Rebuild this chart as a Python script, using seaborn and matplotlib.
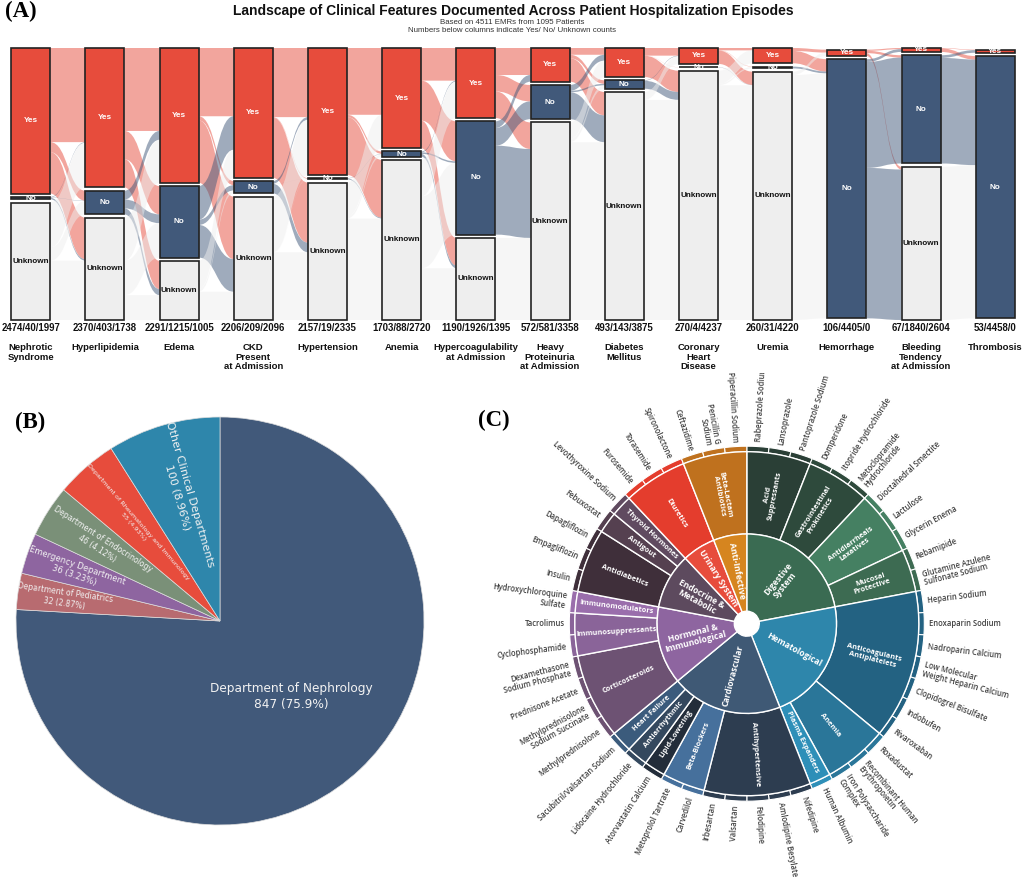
import pandas as pd
import matplotlib
matplotlib.use('Agg')
import matplotlib.pyplot as plt
from matplotlib.patches import PathPatch
from matplotlib.path import Path
import numpy as np
import seaborn as sns

W, H = 1024, 877

# -----------------------------
# Panel A data
features = ['Nephrotic\nSyndrome', 'Hyperlipidemia', 'Edema', 'CKD\nPresent\nat Admission',
            'Hypertension', 'Anemia', 'Hypercoagulability\nat Admission',
            'Heavy\nProteinuria\nat Admission', 'Diabetes\nMellitus', 'Coronary\nHeart\nDisease',
            'Uremia', 'Hemorrhage', 'Bleeding\nTendency\nat Admission', 'Thrombosis']
yes_counts = [2474, 2370, 2291, 2206, 2157, 1703, 1190, 572, 493, 270, 260, 106, 67, 53]
no_counts = [40, 403, 1215, 209, 19, 88, 1926, 581, 143, 4, 31, 4405, 1840, 4458]
unknown_counts = [1997, 1738, 1005, 2096, 2335, 2720, 1395, 3358, 3875, 4237, 4220, 0, 2604, 0]

# flows between neighbouring columns, estimated from band widths (rows: from, cols: to; Yes/No/Unknown)
flow_01 = [[1600, 170, 704], [10, 5, 25], [760, 228, 1009]]
flow_02 = [[1410, 480, 480], [150, 150, 103], [730, 585, 423]]
flow_03 = [[1160, 70, 1061], [570, 90, 555], [476, 49, 480]]
flow_04 = [[1175, 10, 1021], [45, 1, 163], [937, 8, 1151]]
flow_05 = [[1135, 40, 982], [0, 5, 14], [568, 43, 1724]]
flow_06 = [[555, 680, 468], [15, 26, 47], [620, 1220, 880]]
flow_07 = [[459, 280, 451], [113, 301, 1512], [0, 0, 1395]]
flow_08 = [[115, 60, 397], [100, 25, 456], [278, 58, 3022]]
flow_09 = [[130, 2, 361], [8, 0, 135], [132, 2, 3741]]
flow_10 = [[40, 5, 225], [0, 0, 4], [220, 26, 3991]]
flow_11 = [[50, 210, 0], [0, 31, 0], [56, 4164, 0]]
flow_12 = [[20, 40, 46], [47, 1800, 2558], [0, 0, 0]]
flow_13 = [[8, 59, 0], [45, 1795, 0], [0, 2604, 0]]
flows = [flow_01, flow_02, flow_03, flow_04, flow_05, flow_06, flow_07,
         flow_08, flow_09, flow_10, flow_11, flow_12, flow_13]

levels = ['Yes', 'No', 'Unknown']
level_colors = ['#E74C3C', '#41597A', '#EEEEEE']
level_text = ['white', 'white', '#111111']

# -----------------------------
# Panel B data
dept_names = ['Department of Nephrology', 'Department of Pediatrics', 'Emergency Department',
              'Department of Endocrinology', 'Department of Rheumatology and Immunology',
              'Other Clinical Departments']
dept_counts = [847, 32, 36, 46, 55, 100]
dept_pct = ['75.9%', '2.87%', '3.23%', '4.12%', '4.93%', '8.96%']
dept_colors = ['#41597A', '#B86B70', '#8E65A0', '#7A9078', '#E74C3C', '#2E86AB']
dept_font = [8.7, 5.5, 6.0, 5.6, 4.6, 7.9]
dept_radius = [0.51, 0.77, 0.75, 0.70, 0.63, 0.64]

# -----------------------------
# Panel C data
systems = ['Digestive\nSystem', 'Hematological', 'Cardiovascular', 'Hormonal &\nImmunological',
           'Endocrine &\nMetabolic', 'Urinary System', 'Anti-Infective']
system_colors = ['#3A6B52', '#2E86AB', '#3F5975', '#8E65A0', '#5D4A5E', '#E74C3C', '#D6851F']
drug_classes = ['Acid\nSuppressants', 'Gastrointestinal\nProkinetics', 'Antidiarrheals\nLaxatives',
                'Mucosal\nProtective', 'Anticoagulants\nAntiplatelets', 'Anemia', 'Plasma Expanders',
                'Antihypertensive', 'Beta-Blockers', 'Lipid-Lowering', 'Antiarrhythmic', 'Heart Failure',
                'Corticosteroids', 'Immunosuppressants', 'Immunomodulators', 'Antidiabetics', 'Antigout',
                'Thyroid Hormones', 'Diuretics', 'Beta-Lactam\nAntibiotics']
class_parent = [0, 0, 0, 0, 1, 1, 1, 2, 2, 2, 2, 2, 3, 3, 3, 4, 4, 4, 5, 6]
class_sizes = [3, 3, 3, 2, 7, 3, 1, 5, 2, 1, 1, 1, 4, 2, 1, 3, 1, 1, 3, 3]
class_colors = ['#2A3F36', '#2E4A3C', '#458062', '#3D6B52', '#236282', '#2A7699', '#2E8FB8',
                '#2D3D50', '#46709C', '#232D3A', '#34485E', '#3B5B7C', '#6D5273', '#8A6499',
                '#9A6EAC', '#3F2F3A', '#554050', '#604A60', '#E43D2D', '#BF711E']
drugs = ['Rabeprazole Sodium', 'Lansoprazole', 'Pantoprazole Sodium', 'Domperidone',
         'Itopride Hydrochloride', 'Metoclopramide\nHydrochloride', 'Dioctahedral Smectite', 'Lactulose',
         'Glycerin Enema', 'Rebamipide', 'Glutamine Azulene\nSulfonate Sodium', 'Heparin Sodium',
         'Enoxaparin Sodium', 'Nadroparin Calcium', 'Low Molecular\nWeight Heparin Calcium',
         'Clopidogrel Bisulfate', 'Indobufen', 'Rivaroxaban', 'Roxadustat',
         'Recombinant Human\nErythropoietin', 'Iron Polysaccharide\nComplex', 'Human Albumin', 'Nifedipine',
         'Amlodipine Besylate', 'Felodipine', 'Valsartan', 'Irbesartan', 'Carvedilol', 'Metoprolol Tartrate',
         'Atorvastatin Calcium', 'Lidocaine Hydrochloride', 'Sacubitril/Valsartan Sodium',
         'Methylprednisolone', 'Methylprednisolone\nSodium Succinate', 'Prednisone Acetate',
         'Dexamethasone\nSodium Phosphate', 'Cyclophosphamide', 'Tacrolimus', 'Hydroxychloroquine\nSulfate',
         'Insulin', 'Empagliflozin', 'Dapagliflozin', 'Febuxostat', 'Levothyroxine Sodium', 'Furosemide',
         'Torasemide', 'Spironolactone', 'Ceftazidime', 'Penicillin G\nSodium', 'Piperacillin Sodium']

sns.set_theme(style='white')
plt.rcParams['font.family'] = ['Liberation Sans', 'DejaVu Sans']

fig = plt.figure(figsize=(W / 100, H / 100), dpi=100)


def px_box(x0, y0, x1, y1):
    return [x0 / W, 1 - y1 / H, (x1 - x0) / W, (y1 - y0) / H]


# -----------------------------
# (A) sankey columns, 4 px of room round the stacks so the borders are not clipped
ax = fig.add_axes(px_box(0, 44, W, 324))
gap = 56
full_height = 4511 + 2 * gap
units_per_px = full_height / 272
counts = np.array([yes_counts, no_counts, unknown_counts], dtype=float)
bar_width = 39 / 74.19

# stack each column from the top, centred in the panel
tops = np.zeros_like(counts)
for c in range(counts.shape[1]):
    shown = counts[:, c] > 0
    total = counts[:, c].sum() + gap * (shown.sum() - 1)
    y = full_height - (full_height - total) / 2
    for l in range(3):
        tops[l, c] = y
        if shown[l]:
            y -= counts[l, c] + gap

# bands
band_colors = ['#E74C3C', '#41597A', '#EEEEEE']
for i, flow in enumerate(flows):
    x0 = i + bar_width / 2
    x1 = i + 1 - bar_width / 2
    mid = (x0 + x1) / 2
    src = tops[:, i].copy()
    dst = tops[:, i + 1].copy()
    for s in range(3):
        for t in range(3):
            v = flow[s][t]
            if v == 0:
                continue
            verts = [(x0, src[s]), (mid, src[s]), (mid, dst[t]), (x1, dst[t]),
                     (x1, dst[t] - v), (mid, dst[t] - v), (mid, src[s] - v), (x0, src[s] - v),
                     (x0, src[s])]
            codes = [Path.MOVETO, Path.CURVE4, Path.CURVE4, Path.CURVE4, Path.LINETO,
                     Path.CURVE4, Path.CURVE4, Path.CURVE4, Path.CLOSEPOLY]
            ax.add_patch(PathPatch(Path(verts, codes), facecolor=band_colors[s], alpha=0.5,
                                   edgecolor='none', zorder=1))
            src[s] -= v
            dst[t] -= v

for l, name in enumerate(levels):
    df = pd.DataFrame({'feature': features, 'count': counts[l], 'top': tops[l]})
    df = df[df['count'] > 0]
    sns.barplot(data=df, x='feature', y='count', order=features, bottom=(df['top'] - df['count']).values,
                color=level_colors[l], saturation=1, width=bar_width, errorbar=None,
                edgecolor='#222222', linewidth=1.2, zorder=3, ax=ax)
    for c, row in zip(df.index, df.itertuples()):
        ax.text(c, row.top - row.count / 2, name, ha='center', va='center', fontsize=5.9,
                fontweight='bold', color=level_text[l], zorder=5)

ax.set_xlim(-30.7 / 74.19, 13 + (W - 995.2) / 74.19)
ax.set_ylim(-4 * units_per_px, full_height + 4 * units_per_px)
ax.set(xlabel=None, ylabel=None, xticks=[], yticks=[])
ax.patch.set_visible(False)
sns.despine(ax=ax, left=True, bottom=True)

x_trans = ax.get_xaxis_transform()
for c, name in enumerate(features):
    ax.text(c, -4 / 280, f'{yes_counts[c]}/{no_counts[c]}/{unknown_counts[c]}', transform=x_trans,
            ha='center', va='center', fontsize=6.9, fontweight='bold', color='#111111')
    ax.text(c, -19 / 280, name, transform=x_trans, ha='center', va='top', fontsize=6.8,
            fontweight='bold', color='#111111', linespacing=1.1)

fig.text(513 / W, 1 - 10.5 / H, 'Landscape of Clinical Features Documented Across Patient Hospitalization Episodes',
         ha='center', va='center', fontsize=10, fontweight='bold', color='#111111')
fig.text(512 / W, 1 - 22 / H, 'Based on 4511 EMRs from 1095 Patients', ha='center', va='center',
         fontsize=5.7, color='#333333')
fig.text(512 / W, 1 - 30.5 / H, 'Numbers below columns indicate Yes/ No/ Unknown counts', ha='center', va='center',
         fontsize=5.7, color='#333333')

for lab, lx, ly in [('(A)', 21, 11), ('(B)', 30, 422), ('(C)', 494, 420)]:
    fig.text(lx / W, 1 - ly / H, lab, ha='center', va='center', fontsize=16.5, fontweight='bold',
             family=['Liberation Serif'], color='black')

# -----------------------------
# (B) departments
r_px = 204
box = r_px * 1.05
ax_b = fig.add_axes(px_box(220 - box, 621 - box, 220 + box, 621 + box))
ax_b.pie(dept_counts, colors=sns.color_palette(dept_colors), startangle=90, counterclock=False,
         wedgeprops=dict(edgecolor='#dddddd', linewidth=0.5))
ax_b.set_xlim(-1.05, 1.05)
ax_b.set_ylim(-1.05, 1.05)
start = 90.0
for i, name in enumerate(dept_names):
    sweep = 360 * dept_counts[i] / sum(dept_counts)
    mid = start - sweep / 2
    start -= sweep
    rot = 0 if i == 0 else mid - 180
    ax_b.text(dept_radius[i] * np.cos(np.radians(mid)), dept_radius[i] * np.sin(np.radians(mid)),
              f'{name}\n{dept_counts[i]} ({dept_pct[i]})', rotation=rot, rotation_mode='anchor',
              ha='center', va='center', fontsize=dept_font[i], color='#F2F2F2',
              family=['DejaVu Sans'], linespacing=1.25)

# -----------------------------
# (C) sunburst, three nested rings of equally wide drugs
cx, cy = 746.8, 623.7
clip_top = 373
ax_c = fig.add_axes(px_box(480, clip_top, W, H))
system_sizes = [sum(s for s, p in zip(class_sizes, class_parent) if p == k) for k in range(len(systems))]
drug_colors = [c for c, s in zip(class_colors, class_sizes) for _ in range(s)]
ring = dict(startangle=90, counterclock=False)
ax_c.pie([1] * len(drugs), colors=drug_colors, radius=177.5,
         wedgeprops=dict(width=5.5, edgecolor='white', linewidth=0.8), **ring)
ax_c.pie(class_sizes, colors=class_colors, radius=172,
         wedgeprops=dict(width=82.3, edgecolor='white', linewidth=1.0), **ring)
ax_c.pie(system_sizes, colors=system_colors, radius=89.7,
         wedgeprops=dict(width=77.2, edgecolor='white', linewidth=1.0), **ring)
ax_c.set_xlim(480 - cx, W - cx)
ax_c.set_ylim(cy - H, cy - clip_top)
ax_c.set_aspect('equal')


def radial(angle):
    a = (angle + 180) % 360 - 180
    return (a, 'left') if -90 <= a <= 90 else (a + 180 if a < 0 else a - 180, 'right')


unit = 360 / len(drugs)
pos = 0
for k, name in enumerate(systems):
    mid = 90 - unit * (pos + system_sizes[k] / 2)
    pos += system_sizes[k]
    rot, _ = radial(mid)
    ax_c.text(54 * np.cos(np.radians(mid)), 54 * np.sin(np.radians(mid)), name, rotation=rot,
              rotation_mode='anchor', ha='center', va='center', fontsize=6.1, fontweight='bold',
              color='white', family=['Open Sans', 'DejaVu Sans'], linespacing=1.0)
pos = 0
for k, name in enumerate(drug_classes):
    mid = 90 - unit * (pos + class_sizes[k] / 2)
    pos += class_sizes[k]
    rot, _ = radial(mid)
    ax_c.text(131 * np.cos(np.radians(mid)), 131 * np.sin(np.radians(mid)), name, rotation=rot,
              rotation_mode='anchor', ha='center', va='center', fontsize=5.3, fontweight='bold',
              color='white', family=['Open Sans', 'DejaVu Sans'], linespacing=1.0)
for k, name in enumerate(drugs):
    mid = 90 - unit * (k + 0.5)
    rot, side = radial(mid)
    ax_c.text(182 * np.cos(np.radians(mid)), 182 * np.sin(np.radians(mid)), name, rotation=rot,
              rotation_mode='anchor', ha=side, va='center', multialignment=side, fontsize=5.5,
              fontweight='semibold', color='#404040', family=['Open Sans', 'DejaVu Sans'],
              linespacing=1.0, clip_on=True)

plt.savefig('out.png', dpi=100)
plt.close()
